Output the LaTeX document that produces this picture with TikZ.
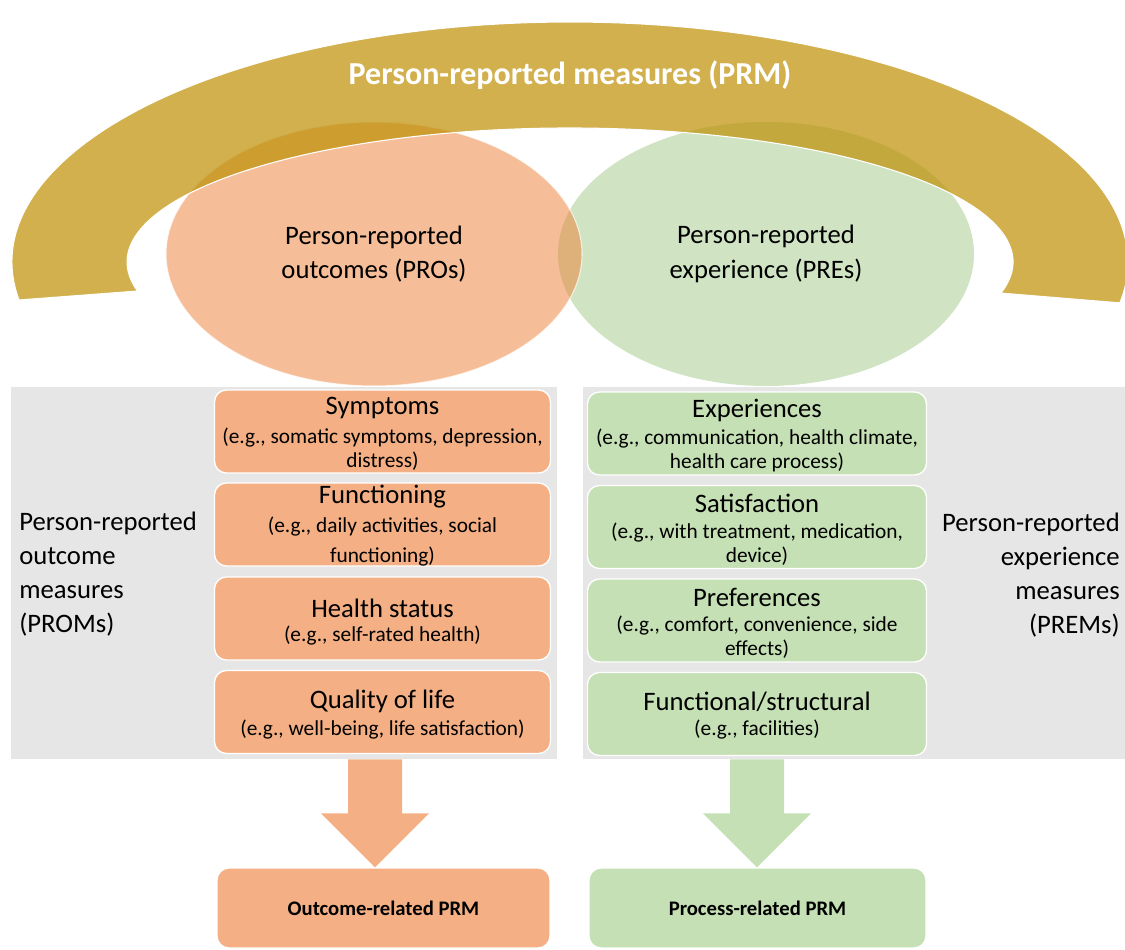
\documentclass[tikz,border=0pt]{standalone}
\usepackage{fontspec}
\setmainfont{Carlito}
\usetikzlibrary{calc,shapes.geometric}

\definecolor{gold}{RGB}{191,145,9}
\definecolor{outc}{RGB}{237,125,49}
\definecolor{expc}{RGB}{208,228,196}
\definecolor{outbox}{RGB}{244,176,132}
\definecolor{expbox}{RGB}{197,224,180}
\definecolor{panelgray}{RGB}{231,230,230}

\newcommand\fbig{\fontsize{20}{25.5}\selectfont}
\newcommand\fsmall{\fontsize{16}{18}\selectfont}

% block arrow from a top point down to a tip point
\newcommand\blockarrow[3]{%
  \fill[#3] ([xshift=-20.25pt]#1) -- ([xshift=20.25pt]#1)
    -- ([xshift=20.25pt,yshift=40.5pt]#2) -- ([xshift=40.5pt,yshift=40.5pt]#2)
    -- (#2) -- ([xshift=-40.5pt,yshift=40.5pt]#2)
    -- ([xshift=-20.25pt,yshift=40.5pt]#2) -- cycle;}

\begin{document}
\begin{tikzpicture}[x=0.75pt,y=-0.75pt,
  panel/.style={fill=panelgray, draw=none, minimum height=279pt, inner sep=0pt},
  catbox/.style={rounded corners=9pt, draw=white, line width=1pt,
    minimum height=62.25pt, inner sep=0pt},
  lbox/.style={catbox, fill=outbox, minimum width=252pt},
  rbox/.style={catbox, fill=expbox, minimum width=254.25pt},
  cattitle/.style={font=\fbig, inner sep=0pt},
  catsub/.style={font=\fsmall, align=center, inner sep=0pt},
  sidetext/.style={font=\fbig, inner sep=0pt},
  endbox/.style={rounded corners=9pt, draw=white, line width=1pt,
    minimum height=60pt, inner sep=0pt, font=\bfseries\fontsize{15.5}{18}\selectfont},
  venn/.style={ellipse, minimum width=312pt, minimum height=198pt, inner sep=0pt,
    line width=0.8pt, text opacity=1,
    align=center, font=\fontsize{20}{26}\selectfont}]

\useasboundingbox (0,0) rectangle (1125,950);

% the two overlapping ellipses
\node[venn, fill=expc] (pre) at (766,254)
  {Person-reported\\experience (PREs)};
\node[venn, fill=outc, fill opacity=0.5, draw=white, draw opacity=0.7] (pro) at (374,254)
  {Person-reported\\outcomes (PROs)};

% overarching translucent band
\fill[gold, fill opacity=0.72, draw=white, line width=0.8pt]
  (570,262) ++(170.9:558 and 240)
  arc[start angle=170.9, end angle=369.8, x radius=558, y radius=240]
  -- ($(570,262)+(13.4:443 and 134)$)
  arc[start angle=13.4, end angle=-192.5, x radius=443, y radius=134]
  -- cycle;
\node[font=\bfseries\fontsize{24}{28}\selectfont, text=white] (prm) at (570,75)
  {Person-reported measures (PRM)};

% grey panels
\node[panel, minimum width=409.5pt] (lpanel) at (284,573) {};
\node[panel, minimum width=406.5pt] (rpanel) at (854,573) {};

% outcome categories
\node[lbox] (sym) at (382.5,431.5) {};
\node[cattitle] (sym-t) at (382.5,408) {Symptoms};
\node[catsub] (sym-s) at (382.5,449) {(e.g., somatic symptoms, depression,\\distress)};

\node[lbox] (fun) at (382.5,524.5) {};
\node[cattitle] (fun-t) at (382.5,497) {Functioning};
\node[catsub, font=\fontsize{16}{23}\selectfont] (fun-s) at (382.5,541.5) {(e.g., daily activities, social\\functioning)};

\node[lbox] (hea) at (382.5,618.5) {};
\node[cattitle] (hea-t) at (382.5,608) {Health status};
\node[catsub] (hea-s) at (382.5,636) {(e.g., self-rated health)};

\node[lbox] (qol) at (382.5,712) {};
\node[cattitle] (qol-t) at (382.5,701) {Quality of life};
\node[catsub] (qol-s) at (382.5,730) {(e.g., well-being, life satisfaction)};

% experience categories
\node[rbox] (exp) at (757,433.5) {};
\node[cattitle] (exp-t) at (757,410) {Experiences};
\node[catsub] (exp-s) at (757,450.5) {(e.g., communication, health climate,\\health care process)};

\node[rbox] (sat) at (757,527) {};
\node[cattitle] (sat-t) at (757,503) {Satisfaction};
\node[catsub] (sat-s) at (757,544.5) {(e.g., with treatment, medication,\\device)};

\node[rbox] (prf) at (757,620.5) {};
\node[cattitle] (prf-t) at (757,597) {Preferences};
\node[catsub] (prf-s) at (757,637.5) {(e.g., comfort, convenience, side\\effects)};

\node[rbox] (fst) at (757,714) {};
\node[cattitle] (fst-t) at (757,702) {Functional/structural};
\node[catsub] (fst-s) at (757,730) {(e.g., facilities)};

% side labels
\node[sidetext, anchor=west, align=left] (proms) at (19,574.5)
  {Person-reported\\outcome\\measures\\(PROMs)};
\node[sidetext, anchor=east, align=right] (prems) at (1120,575)
  {Person-reported\\experience\\measures\\(PREMs)};

% resulting measure types
\node[endbox, fill=outbox, minimum width=249.75pt] (orel) at (383.5,908) {Outcome-related PRM};
\node[endbox, fill=expbox, minimum width=252.75pt] (prel) at (757.5,908) {Process-related PRM};

% block arrows from panels to results
\coordinate (la-top) at (lpanel.south -| 375,0);
\coordinate (la-tip) at (orel.north -| 375,0);
\coordinate (ra-top) at (rpanel.south -| 757,0);
\coordinate (ra-tip) at (prel.north -| 757,0);
\blockarrow{la-top}{la-tip}{outbox}
\blockarrow{ra-top}{ra-tip}{expbox}

\end{tikzpicture}
\end{document}
